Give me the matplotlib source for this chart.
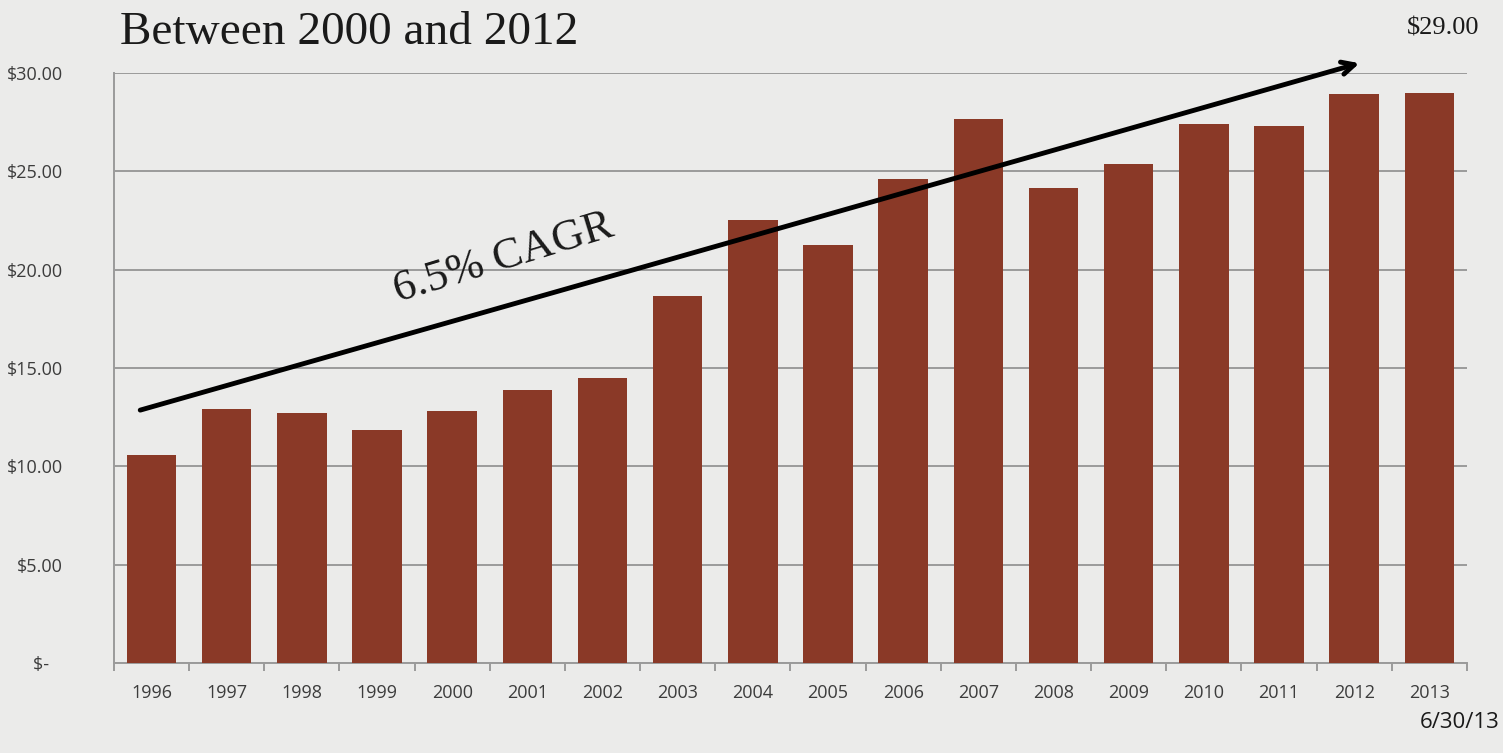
import matplotlib.pyplot as plt
import numpy as np
from matplotlib.ticker import FuncFormatter

# Yearly price values ($)
years = [str(y) for y in range(1996, 2014)]
prices = [10.57, 12.91, 12.71, 11.85, 12.81, 13.88, 14.49, 18.66, 22.52,
          21.25, 24.61, 27.66, 24.15, 25.37, 27.40, 27.30, 28.93, 29.00]
y_ticks = [0, 5, 10, 15, 20, 25, 30]

BAR = "#8a3927"
BG = "#ebebea"
GRID = "#9a9a9a"
TXT = "#3c3c3c"
SERIF = ["Liberation Serif", "DejaVu Serif"]
SANS = ["Open Sans", "DejaVu Sans"]

fig = plt.figure(figsize=(15.03, 7.53), dpi=100, facecolor=BG)
ax = fig.add_axes([0.0758, 0.1195, 0.9002, 0.7835])
ax.set_facecolor(BG)

x = np.arange(len(years))
ax.bar(x, prices, width=0.66, color=BAR, zorder=3)

ax.set_xlim(-0.5, len(years) - 0.5)
ax.set_ylim(0, 30)
ax.set_yticks(y_ticks)
ax.yaxis.set_major_formatter(FuncFormatter(lambda v, _: "$-   " if v == 0 else f"${v:,.2f}"))
ax.grid(axis="y", color=GRID, lw=1.4, zorder=0)

ax.set_xticks(x)
ax.set_xticklabels(years)
ax.set_xticks(np.arange(-0.5, len(years)), minor=True)
ax.tick_params(axis="x", which="major", length=0, pad=15)
ax.tick_params(axis="x", which="minor", length=6, width=1.4, color=GRID, direction="out")
ax.tick_params(axis="y", length=0, pad=37)
for lab in ax.get_xticklabels() + ax.get_yticklabels():
    lab.set_fontfamily(SANS)
    lab.set_fontsize(13)
    lab.set_color(TXT)

for side in ("top", "right"):
    ax.spines[side].set_visible(False)
for side in ("left", "bottom"):
    ax.spines[side].set_color(GRID)
    ax.spines[side].set_linewidth(1.4)

# trend arrow and growth label
ax.annotate("", xy=(16.07, 30.5), xytext=(-0.15, 12.86),
            arrowprops=dict(arrowstyle="->,head_length=0.9,head_width=0.45",
                            lw=3.5, color="black", shrinkA=0, shrinkB=0),
            annotation_clip=False, zorder=5)
ax.text(4.68, 20.6, "6.5% CAGR", rotation=17, ha="center", va="center",
        fontsize=32, family=SERIF, color="#1a1a1a", zorder=5)

fig.text(0.080, 0.941, "Between 2000 and 2012", fontsize=34, family=SERIF,
         color="#1a1a1a", ha="left", va="baseline")
fig.text(0.984, 0.954, f"${prices[-1]:.2f}", fontsize=19, family=SERIF,
         color="#1a1a1a", ha="right", va="baseline")
fig.text(0.998, 0.033, "6/30/13", fontsize=16, family=SANS,
         color="#1a1a1a", ha="right", va="baseline")

fig.savefig("out.png", dpi=100, facecolor=BG)
